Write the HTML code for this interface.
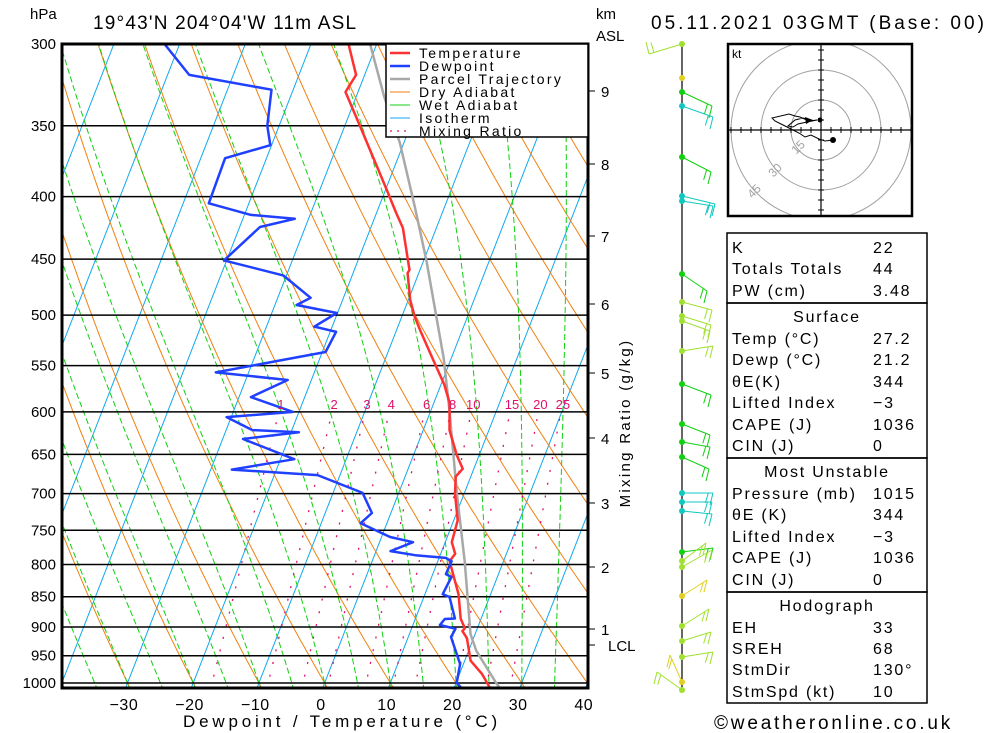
<!DOCTYPE html>
<html><head><meta charset="utf-8"><title>Skew-T</title>
<style>
html,body{margin:0;padding:0;background:#fff;}
svg{display:block;font-family:"Liberation Sans",sans-serif;}
</style></head>
<body>
<svg id="chart" width="1000" height="733" viewBox="0 0 1000 733" xmlns="http://www.w3.org/2000/svg">
<defs><clipPath id="plotclip"><rect x="62" y="44" width="526" height="644"/></clipPath></defs>
<rect x="0" y="0" width="1000" height="733" fill="#fff"/>
<g id="bg" clip-path="url(#plotclip)"></g>
<g id="series" clip-path="url(#plotclip)"></g>
<g id="axes"></g>
<g id="legend">
  <rect x="386" y="44" width="202" height="93" fill="#fff" stroke="#000" stroke-width="1.5"/>
  <g font-size="14" fill="#000" letter-spacing="2.3">
    <line x1="390" y1="53" x2="410" y2="53" stroke="#ff3030" stroke-width="2.5"/><text x="419" y="58">Temperature</text>
    <line x1="390" y1="66" x2="410" y2="66" stroke="#2040ff" stroke-width="2.5"/><text x="419" y="71">Dewpoint</text>
    <line x1="390" y1="79" x2="410" y2="79" stroke="#a8a8a8" stroke-width="2.5"/><text x="419" y="84">Parcel Trajectory</text>
    <line x1="390" y1="92" x2="410" y2="92" stroke="#f08010" stroke-width="1"/><text x="419" y="97">Dry Adiabat</text>
    <line x1="390" y1="105" x2="410" y2="105" stroke="#10d010" stroke-width="1"/><text x="419" y="110">Wet Adiabat</text>
    <line x1="390" y1="118" x2="410" y2="118" stroke="#10a8f0" stroke-width="1"/><text x="419" y="123">Isotherm</text>
    <line x1="390" y1="131" x2="410" y2="131" stroke="#e0106a" stroke-width="1.2" stroke-dasharray="2 5"/><text x="419" y="136">Mixing Ratio</text>
  </g>
</g>
<g id="texts" fill="#000">
  <text x="30" y="19" font-size="15">hPa</text>
  <text x="93" y="29" font-size="19" letter-spacing="1.2">19°43'N 204°04'W 11m ASL</text>
  <text x="596" y="19" font-size="15">km</text>
  <text x="596" y="41" font-size="15">ASL</text>
  <text x="651" y="29" font-size="19" letter-spacing="3">05.11.2021 03GMT (Base: 00)</text>
  <text x="342" y="727" font-size="17" text-anchor="middle" letter-spacing="3.8">Dewpoint / Temperature (°C)</text>
  <text transform="translate(630,423) rotate(-90)" font-size="15" text-anchor="middle" letter-spacing="2.3">Mixing Ratio (g/kg)</text>
  <text x="714" y="729" font-size="19" letter-spacing="2.8">©weatheronline.co.uk</text>
</g>
<g id="winds"></g>
<g id="hodo"></g>
<g id="table"></g>
</svg>
<script>
// ---------- data ----------
const tempP = [300,318,328.4,350,395,412.5,424.3,459.3,461.9,486,501.8,516,542,570,590,621,651,668,678,700,736,767,784,795,846,886,902,907,919,959,983,1010,1013];
const tempT = [-34.3,-31.3,-31.9,-27.7,-19.8,-17.0,-15.1,-11.6,-11.7,-9.7,-8.0,-6.2,-2.9,0.5,2.4,4.0,6.6,8.3,7.7,8.6,10.6,11.0,12.2,11.8,15.1,16.9,18.1,17.9,19.0,20.9,23.4,25.5,27.2];
const dewP = [300,318,327,350,363,372,405,414,417,423.5,451,464,484,490.6,498,511,516,536,544,557,565,583.5,600,606,621,623.5,631.5,656,669,676,699,726,740,759.6,767,780,786,790,795,814.5,819,846,850.5,885.6,886.5,896.6,903,917,965,1000,1013];
const dewT = [-62.3,-56.7,-43.3,-41.8,-40.2,-46.3,-46.1,-39.0,-32.1,-36.9,-40.4,-30.5,-25.0,-26.7,-20.1,-22.7,-19.1,-19.5,-25.5,-35.0,-23.6,-28.2,-20.9,-30.7,-26.0,-18.8,-26.9,-17.9,-26.8,-13.4,-5.5,-2.9,-4.0,1.3,5.1,2.2,6.2,11.0,12.1,12.0,13.0,12.7,13.9,16.0,14.5,14.1,16.7,16.5,19.5,20.1,21.5];
const parcelP = [300,331.5,361.5,408,451,543,598,700,795,912,941.6,1000,1010];
const parcelT = [-31.0,-25.7,-20.6,-14.5,-9.6,-1.1,2.8,8.9,14.1,19.3,21.2,26.1,27.0];
const pressureLevels = [300,350,400,450,500,550,600,650,700,750,800,850,900,950,1000];
const tempTicks = [-30,-20,-10,0,10,20,30,40];
const kmLabels = ["1","2","3","4","5","6","7","8","9"];
const kmY = [629,567,503,438,373,304,236,164,91];
const mixRatios = [1,2,3,4,6,8,10,15,20,25];

// ---------- axes ----------
const NS="http://www.w3.org/2000/svg";
function yOf(p){return 44+530.7*Math.log(p/300);}
function xOf(T,p){return 325+6.57*T+0.39*(682-yOf(p));}
function mk(tag,attrs,parent){const e=document.createElementNS(NS,tag);for(const k in attrs)e.setAttribute(k,attrs[k]);if(parent)parent.appendChild(e);return e;}
const bg=document.getElementById('bg'),ser=document.getElementById('series'),ax=document.getElementById('axes');

for(let T=-120;T<=40;T+=10){
  const l=mk('line',{x1:xOf(T,1015),y1:yOf(1015),x2:xOf(T,290),y2:yOf(290),stroke:'#10a8f0','stroke-width':1},bg);
  
  
}
for(let t0=-50;t0<=130;t0+=10){
  const th=t0+273.15;let pts=[];
  for(let p=1015;p>=290;p-=5){const T=th*Math.pow(p/1000,0.2857)-273.15;pts.push(xOf(T,p).toFixed(1)+','+yOf(p).toFixed(1));}
  const pl=mk('polyline',{points:pts.join(' '),fill:'none',stroke:'#f08010','stroke-width':1},bg);
  
  
}
function dTdp(T,p){const Rd=287,cp=1004,Lv=2.5e6;const es=6.112*Math.exp(17.67*(T-273.15)/(T-29.65));const rs=0.622*es/(p-es);return (Rd*T+Lv*rs)/(p*(cp+Lv*Lv*rs*0.622/(Rd*T*T)));}
for(let t0=-40;t0<=40;t0+=5){
  let pts=[];let T=t0+273.15;
  let Td=T;for(let p=1000;p<1015;p+=1){Td+=dTdp(Td,p)*1;}
  pts.push(xOf(Td-273.15,1015).toFixed(1)+','+yOf(1015).toFixed(1));
  for(let p=1000;p>=290;p-=1){if(p%5===0)pts.push(xOf(T-273.15,p).toFixed(1)+','+yOf(p).toFixed(1));T-=dTdp(T,p)*1;}
  const pl=mk('polyline',{points:pts.join(' '),fill:'none',stroke:'#10d010','stroke-width':1,'stroke-dasharray':'6 3'},bg);
  
  
}
function tdOf(w,p){const e=w*p/(622+w);const a=Math.log(e/6.112);return 243.5*a/(17.67-a);}
mixRatios.forEach(w=>{
  const l=mk('line',{x1:xOf(tdOf(w,1012),1012),y1:yOf(1012),x2:xOf(tdOf(w,600),600),y2:yOf(600),stroke:'#e0106a','stroke-width':1.3,'stroke-dasharray':'2 11'},bg);
  
  
  const t=mk('text',{x:xOf(tdOf(w,600),600)+2,y:409,'font-size':13,fill:'#e0106a','text-anchor':'middle'},ax);
  t.textContent=String(w);
  
  
});
pressureLevels.forEach(p=>{
  const y=yOf(p);
  const l=mk('line',{x1:62,y1:y,x2:588,y2:y,stroke:'#000','stroke-width':1.5},bg);
  
  
  const t=mk('text',{x:56,y:y+5,'font-size':15,'text-anchor':'end',fill:'#000'},ax);
  t.textContent=String(p);
  
  
});
tempTicks.forEach(T=>{
  const t=mk('text',{x:321+6.57*T,y:710,'font-size':16,'text-anchor':'middle',fill:'#000','letter-spacing':'0.5'},ax);
  t.textContent=(T<0?'\u2212'+(-T):String(T));
  
  
});
kmLabels.forEach((s,i)=>{
  const y=kmY[i];
  mk('line',{x1:588,y1:y,x2:595,y2:y,stroke:'#000','stroke-width':1},ax);
  const t=mk('text',{x:601,y:y+6,'font-size':15,fill:'#000'},ax);
  t.textContent=s;
  
  
});
mk('line',{x1:588,y1:645,x2:595,y2:645,stroke:'#000','stroke-width':1},ax);
{const t=mk('text',{x:608,y:651,'font-size':15,fill:'#000'},ax);t.textContent='LCL';

}
{const f=mk('rect',{x:62,y:44,width:526,height:644,fill:'none',stroke:'#000','stroke-width':3},ax);

}

function series(P,T,color,w,name){
  const pts=P.map((p,i)=>xOf(T[i],p).toFixed(1)+','+yOf(p).toFixed(1)).join(' ');
  const pl=mk('polyline',{points:pts,fill:'none',stroke:color,'stroke-width':w,'stroke-linejoin':'round'},ser);
  
  
}
series(parcelP,parcelT,'#a8a8a8',2.5,'parcel-trajectory-line');
series(tempP,tempT,'#ff3030',2.5,'temperature-line');
series(dewP,dewT,'#2040ff',2.5,'dewpoint-line');

// ---------- wind barbs ----------
const W=document.getElementById('winds');
mk('line',{x1:682,y1:44,x2:682,y2:690,stroke:'#000','stroke-width':1.2},W);
const YG='#a0e030',GR='#10d010',TE='#10c8c0',YE='#e0d020';
const barbs=[[44,YG,649,54,-1],[78,YE,null],[92,GR,712,106,1],[106,TE,713,117,1],[157,GR,711,172,1],[196,TE,715,204,1],[201,TE,713,206,1],
[274,GR,707,291,1],[302,YG,712,310,1],[316,YG,711,325,1],[321,YG,710,331,1],[351,YG,713,346,1],[384,GR,711,395,1],[424,GR,710,435,1],[442,GR,710,447,1],[457,GR,709,469,1],
[493,TE,713,493,1],[502,TE,712,502,1],[511,TE,712,514,1],[552,GR,713,548,1],[561,YG,706,543,1],[567,YG,712,550,1],[596,YE,707,580,1],[626,YG,709,609,1],[641,YG,711,632,1],[657,YG,713,652,1],[682,YE,670,655,1],[690,YG,657,672,1]];
barbs.forEach(b=>{
  const [y,c,ex,ey,dir]=b;
  if(ex!==null){
    mk('line',{x1:682,y1:y,x2:ex,y2:ey,stroke:c,'stroke-width':1},W);
    const fx=ex-(ex-682)*0.15, fy=ey-(ey-y)*0.15;
    mk('line',{x1:ex,y1:ey,x2:ex-3,y2:ey+12*dir,stroke:c,'stroke-width':1},W);
    mk('line',{x1:fx,y1:fy,x2:fx-3,y2:fy+10*dir,stroke:c,'stroke-width':1},W);
  }
  const d=mk('circle',{cx:682,cy:y,r:3,fill:c},W);
  
  
});

// ---------- hodograph ----------
const H=document.getElementById('hodo');
mk('defs',{},H).innerHTML='<clipPath id="hclip"><rect x="728" y="44" width="184" height="172"/></clipPath>';
const hg=mk('g',{'clip-path':'url(#hclip)'},H);
[30,60,90].forEach(r=>mk('circle',{cx:821,cy:130,r:r,fill:'none',stroke:'#a0a0a0','stroke-width':1},hg));
mk('line',{x1:728,y1:130,x2:912,y2:130,stroke:'#000','stroke-width':1.2},hg);
mk('line',{x1:821,y1:44,x2:821,y2:216,stroke:'#000','stroke-width':1.2},hg);
for(let k=-9;k<=9;k++){if(!k)continue;const d=k*10;
  mk('line',{x1:821+d,y1:127,x2:821+d,y2:133,stroke:'#000','stroke-width':1},hg);
  mk('line',{x1:818,y1:130+d,x2:824,y2:130+d,stroke:'#000','stroke-width':1},hg);}
[['15',801,150],['30',778,173],['45',757,194]].forEach(a=>{const t=mk('text',{transform:`translate(${a[1]},${a[2]}) rotate(-45)`,'font-size':12,fill:'#a0a0a0','text-anchor':'middle'},hg);t.textContent=a[0];});
mk('polyline',{points:'833,140 825,141 819,139 811,135 805,137 799,133 789,128 781,124 775,121 772,118 789,114 795,116 800,117 809,121 817,120 807,122 798,124 793,127 788,126 795,120 803,118 811,120',fill:'none',stroke:'#000','stroke-width':1},hg);
mk('circle',{cx:833,cy:140,r:3,fill:'#000'},hg);
mk('circle',{cx:820,cy:120,r:2.5,fill:'#000'},hg);
mk('polygon',{points:'805,117 813,120 806,124',fill:'#000'},hg);
{const r=mk('rect',{x:728,y:44,width:184,height:172,fill:'none',stroke:'#000','stroke-width':2.5},H);

}
{const t=mk('text',{x:732,y:58,'font-size':12,fill:'#000'},H);t.textContent='kt';}

// ---------- table ----------
const TB=document.getElementById('table');
[[233,303],[303,458],[458,592],[592,703]].forEach(b=>mk('rect',{x:727,y:b[0],width:200,height:b[1]-b[0],fill:'none',stroke:'#000','stroke-width':1.5},TB));
const rows=[['K','22',253],['Totals Totals','44',274],['PW (cm)','3.48',296],['@Surface','',322],['Temp (°C)','27.2',344],['Dewp (°C)','21.2',365],['θE(K)','344',387],['Lifted Index','\u22123',408],['CAPE (J)','1036',430],['CIN (J)','0',451],
['@Most Unstable','',477],['Pressure (mb)','1015',499],['θE (K)','344',520],['Lifted Index','\u22123',542],['CAPE (J)','1036',563],['CIN (J)','0',585],['@Hodograph','',611],['EH','33',633],['SREH','68',654],['StmDir','130°',675],['StmSpd (kt)','10',697]];
rows.forEach(r=>{
  if(r[0][0]==='@'){const t=mk('text',{x:827,y:r[2],'font-size':16,'text-anchor':'middle',fill:'#000','letter-spacing':'1.8'},TB);t.textContent=r[0].slice(1);
    
    return;}
  const a=mk('text',{x:732,y:r[2],'font-size':16,fill:'#000','letter-spacing':'1.8'},TB);a.textContent=r[0];
  
  
  const b=mk('text',{x:873,y:r[2],'font-size':16,fill:'#000','letter-spacing':'1.8'},TB);b.textContent=r[1];
  
  
});
</script>
</body></html>
